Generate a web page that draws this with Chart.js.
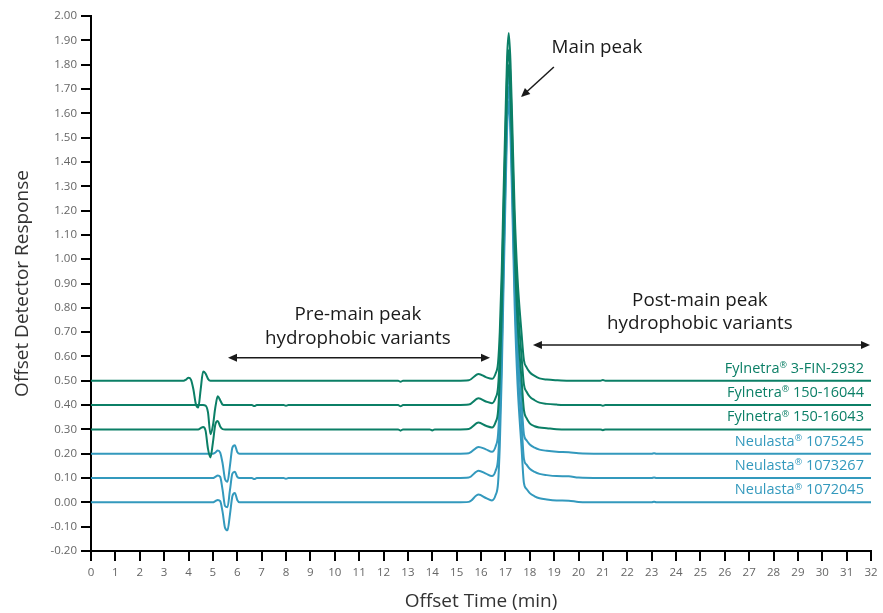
<!DOCTYPE html>
<html>
<head>
<meta charset="utf-8">
<script src="https://cdn.jsdelivr.net/npm/chart.js@4.4.1/dist/chart.umd.min.js"></script>
<style>
  body { margin: 0; background: #fff; }
  #wrap { width: 883px; height: 613px; position: relative; }
</style>
</head>
<body>
<div id="wrap"><canvas id="myChart"></canvas></div>
<script>
// time axis (min), shared by all traces
const times = [0, 3.7, 3.8, 3.9, 4.0, 4.1, 4.2, 4.3, 4.4, 4.5, 4.6, 4.7, 4.8, 4.9, 5.0, 5.1, 5.2, 5.3, 5.4, 5.5,
  5.6, 5.7, 5.8, 5.9, 6.0, 6.1, 6.6, 6.7, 6.8, 7.9, 8.0, 8.1, 10.0, 11.0, 12.6, 12.7, 12.8, 13.9, 14.0, 14.1,
  15.0, 15.5, 15.9, 16.2, 16.45, 16.6, 16.7, 16.77, 16.85, 16.92, 17.0, 17.07, 17.14, 17.21, 17.28, 17.38, 17.5, 17.66, 17.76, 17.87,
  18.0, 18.2, 18.4, 18.7, 19.1, 19.6, 20.0, 20.9, 21.0, 21.1, 23.0, 23.1, 23.2, 26.0, 32.0];

// offset detector response, one array per lot
const fyl2932 = [0.5, 0.5, 0.5, 0.505, 0.512, 0.505, 0.465, 0.405, 0.39, 0.465, 0.538, 0.53, 0.508, 0.5, 0.5, 0.5, 0.5, 0.5, 0.5, 0.5,
  0.5, 0.5, 0.5, 0.5, 0.5, 0.5, 0.5, 0.5, 0.5, 0.5, 0.5, 0.5, 0.5, 0.5, 0.5, 0.496, 0.5, 0.5, 0.5, 0.5,
  0.5, 0.502, 0.528, 0.515, 0.508, 0.53, 0.575, 0.7, 0.95, 1.25, 1.57, 1.83, 1.93, 1.81, 1.57, 1.2, 0.92, 0.7, 0.585, 0.555,
  0.535, 0.52, 0.51, 0.505, 0.502, 0.5, 0.5, 0.5, 0.503, 0.5, 0.5, 0.5, 0.5, 0.5, 0.5];
const fyl16044 = [0.4, 0.4, 0.4, 0.4, 0.4, 0.4, 0.4, 0.4, 0.4, 0.4, 0.4, 0.398, 0.37, 0.28, 0.315, 0.39, 0.436, 0.42, 0.402, 0.4,
  0.4, 0.4, 0.4, 0.4, 0.4, 0.4, 0.4, 0.396, 0.4, 0.4, 0.397, 0.4, 0.4, 0.4, 0.4, 0.395, 0.4, 0.4, 0.4, 0.4,
  0.4, 0.402, 0.428, 0.415, 0.408, 0.43, 0.475, 0.605, 0.86, 1.165, 1.49, 1.76, 1.86, 1.74, 1.49, 1.115, 0.83, 0.605, 0.485, 0.455,
  0.435, 0.42, 0.41, 0.405, 0.402, 0.4, 0.4, 0.4, 0.397, 0.4, 0.4, 0.4, 0.4, 0.4, 0.4];
const fyl16043 = [0.3, 0.3, 0.3, 0.3, 0.3, 0.3, 0.3, 0.3, 0.3, 0.305, 0.31, 0.295, 0.22, 0.185, 0.245, 0.32, 0.335, 0.312, 0.301, 0.3,
  0.3, 0.3, 0.3, 0.3, 0.3, 0.3, 0.3, 0.3, 0.3, 0.3, 0.3, 0.3, 0.3, 0.3, 0.3, 0.295, 0.3, 0.3, 0.296, 0.3,
  0.3, 0.302, 0.328, 0.315, 0.308, 0.33, 0.375, 0.51, 0.77, 1.09, 1.42, 1.695, 1.8, 1.675, 1.42, 1.035, 0.74, 0.51, 0.38, 0.346,
  0.325, 0.313, 0.308, 0.305, 0.301, 0.3, 0.3, 0.3, 0.297, 0.3, 0.3, 0.3, 0.3, 0.3, 0.3];
const neu1075245 = [0.2, 0.2, 0.2, 0.2, 0.2, 0.2, 0.2, 0.2, 0.2, 0.2, 0.2, 0.2, 0.2, 0.2, 0.2, 0.205, 0.213, 0.205, 0.16, 0.095,
  0.085, 0.15, 0.225, 0.235, 0.207, 0.2, 0.2, 0.2, 0.2, 0.2, 0.2, 0.2, 0.2, 0.2, 0.2, 0.2, 0.2, 0.2, 0.2, 0.2,
  0.2, 0.202, 0.228, 0.218, 0.208, 0.23, 0.28, 0.42, 0.69, 1.02, 1.375, 1.66, 1.77, 1.64, 1.375, 0.97, 0.66, 0.42, 0.28, 0.255,
  0.238, 0.225, 0.217, 0.212, 0.208, 0.206, 0.202, 0.2, 0.2, 0.2, 0.2, 0.202, 0.2, 0.2, 0.2];
const neu1073267 = [0.1, 0.1, 0.1, 0.1, 0.1, 0.1, 0.1, 0.1, 0.1, 0.1, 0.1, 0.1, 0.1, 0.1, 0.1, 0.105, 0.11, 0.105, 0.05, -0.015,
  -0.02, 0.05, 0.118, 0.126, 0.105, 0.1, 0.1, 0.096, 0.1, 0.1, 0.097, 0.1, 0.1, 0.1, 0.1, 0.1, 0.1, 0.1, 0.1, 0.1,
  0.1, 0.102, 0.13, 0.118, 0.108, 0.13, 0.18, 0.325, 0.605, 0.945, 1.305, 1.6, 1.71, 1.575, 1.305, 0.89, 0.57, 0.325, 0.18, 0.155,
  0.138, 0.125, 0.117, 0.112, 0.108, 0.107, 0.102, 0.1, 0.1, 0.1, 0.1, 0.102, 0.1, 0.1, 0.1];
const neu1072045 = [0, 0, 0, 0, 0, 0, 0, 0, 0, 0, 0, 0, 0, 0, 0, 0.005, 0.01, 0.005, -0.04, -0.105,
  -0.115, -0.05, 0.025, 0.039, 0.01, 0, 0, 0, 0, 0, 0, 0, 0, 0, 0, 0, 0, 0, 0, 0,
  0, 0.002, 0.032, 0.018, 0.008, 0.03, 0.08, 0.23, 0.52, 0.865, 1.235, 1.535, 1.65, 1.51, 1.235, 0.81, 0.485, 0.23, 0.08, 0.055,
  0.038, 0.025, 0.017, 0.012, 0.008, 0.007, 0.002, 0, 0, 0, 0, 0.003, 0, 0, 0];

const seriesNames = ["Fylnetra® 3-FIN-2932", "Fylnetra® 150-16044", "Fylnetra® 150-16043",
  "Neulasta® 1075245", "Neulasta® 1073267", "Neulasta® 1072045"];
const seriesValues = [fyl2932, fyl16044, fyl16043, neu1075245, neu1073267, neu1072045];
const seriesOffsets = [0.5, 0.4, 0.3, 0.2, 0.1, 0.0]; // baseline each label sits above
const green = "#0b7f66";
const blue = "#3399bd";
const seriesColors = [green, green, green, blue, blue, blue];

const FONT = "'Open Sans', sans-serif";

let datasets = seriesValues.map((vals, i) => ({
  label: seriesNames[i],
  data: times.map((t, j) => ({ x: t, y: vals[j] })),
  borderColor: seriesColors[i],
  borderWidth: 2,
  pointRadius: 0,
  fill: false,
  cubicInterpolationMode: "monotone",
}));

function arrowHead(ctx, x, y, ang) {
  let len = 9, w = 4;
  ctx.beginPath();
  ctx.moveTo(x, y);
  ctx.lineTo(x - len * Math.cos(ang) + w * Math.sin(ang), y - len * Math.sin(ang) - w * Math.cos(ang));
  ctx.lineTo(x - len * Math.cos(ang) - w * Math.sin(ang), y - len * Math.sin(ang) + w * Math.cos(ang));
  ctx.closePath();
  ctx.fill();
}

// label with a small raised ® sign, right aligned at x
function drawTrademarkLabel(ctx, text, xRight, y, size) {
  let parts = text.split("®");
  ctx.textBaseline = "middle";
  ctx.textAlign = "left";
  ctx.font = size + "px " + FONT;
  let w1 = ctx.measureText(parts[0]).width;
  let w3 = ctx.measureText(parts[1]).width;
  ctx.font = (size * 0.62) + "px " + FONT;
  let w2 = ctx.measureText("®").width;
  let x = xRight - w1 - w2 - w3;
  ctx.font = size + "px " + FONT;
  ctx.fillText(parts[0], x, y);
  ctx.font = (size * 0.62) + "px " + FONT;
  ctx.fillText("®", x + w1, y - size * 0.22);
  ctx.font = size + "px " + FONT;
  ctx.fillText(parts[1], x + w1 + w2, y);
}

const annotations = {
  id: "annotations",
  afterDatasetsDraw(chart) {
    let ctx = chart.ctx;
    let xs = chart.scales.x, ys = chart.scales.y;
    let X = (v) => xs.getPixelForValue(v);
    let Y = (v) => ys.getPixelForValue(v);
    ctx.save();

    // series labels
    seriesNames.forEach((name, i) => {
      ctx.fillStyle = seriesColors[i];
      drawTrademarkLabel(ctx, name, X(31.71), Y(seriesOffsets[i] + 0.05), 14.5);
    });

    ctx.fillStyle = "#1a1a1a";
    ctx.strokeStyle = "#1a1a1a";
    ctx.lineWidth = 1.5;
    ctx.textAlign = "center";
    ctx.textBaseline = "middle";
    ctx.font = "18.8px " + FONT;
    ctx.fillText("Main peak", X(20.76), Y(1.868));
    ctx.fillText("Pre-main peak", X(10.95), Y(0.772));
    ctx.fillText("hydrophobic variants", X(10.95), Y(0.672));
    ctx.fillText("Post-main peak", X(24.98), Y(0.828));
    ctx.fillText("hydrophobic variants", X(24.98), Y(0.734));

    // main peak arrow
    let x1 = X(18.99), y1 = Y(1.79), x2 = X(17.64), y2 = Y(1.667);
    let ang = Math.atan2(y2 - y1, x2 - x1);
    ctx.beginPath();
    ctx.moveTo(x1, y1);
    ctx.lineTo(x2 - 6 * Math.cos(ang), y2 - 6 * Math.sin(ang));
    ctx.stroke();
    arrowHead(ctx, x2, y2, ang);

    // range arrows
    [[5.62, 16.37, 0.595], [18.13, 31.96, 0.647]].forEach(([a, b, v]) => {
      let xa = X(a), xb = X(b), yy = Y(v);
      ctx.beginPath();
      ctx.moveTo(xa + 5, yy);
      ctx.lineTo(xb - 5, yy);
      ctx.stroke();
      arrowHead(ctx, xa, yy, Math.PI);
      arrowHead(ctx, xb, yy, 0);
    });
    ctx.restore();
  },
};

let ctx = document.getElementById("myChart").getContext("2d");
let myChart = new Chart(ctx, {
  type: "line",
  data: { datasets: datasets },
  options: {
    responsive: true,
    maintainAspectRatio: false,
    animation: false,
    layout: { padding: { top: 16, right: 12, left: 0, bottom: 0 } },
    plugins: { legend: { display: false }, tooltip: { enabled: false } },
    scales: {
      x: {
        type: "linear",
        min: 0,
        max: 32,
        afterFit: (scale) => { scale.height = 62; },
        ticks: { stepSize: 1, autoSkip: false, maxRotation: 0, color: "#666", padding: 5, font: { family: FONT, size: 11.5 } },
        grid: { drawOnChartArea: false, drawTicks: true, tickLength: 10, color: "#000", lineWidth: 2 },
        border: { display: true, color: "#000", width: 2 },
        title: { display: true, text: "Offset Time (min)", color: "#333", padding: { top: 0, bottom: 0 }, font: { family: FONT, size: 19 } },
      },
      y: {
        type: "linear",
        min: -0.2,
        max: 2.0,
        afterFit: (scale) => { scale.width = 91; },
        ticks: { stepSize: 0.1, autoSkip: false, color: "#666", padding: 4, font: { family: FONT, size: 11.5 },
          callback: (v) => Number(v).toFixed(2) },
        grid: { drawOnChartArea: false, drawTicks: true, tickLength: 10, color: "#000", lineWidth: 2 },
        border: { display: true, color: "#000", width: 2 },
        title: { display: true, text: "Offset Detector Response", color: "#333", padding: { top: 11, bottom: 0 }, font: { family: FONT, size: 19 } },
      },
    },
  },
  plugins: [annotations],
});
</script>
</body>
</html>
